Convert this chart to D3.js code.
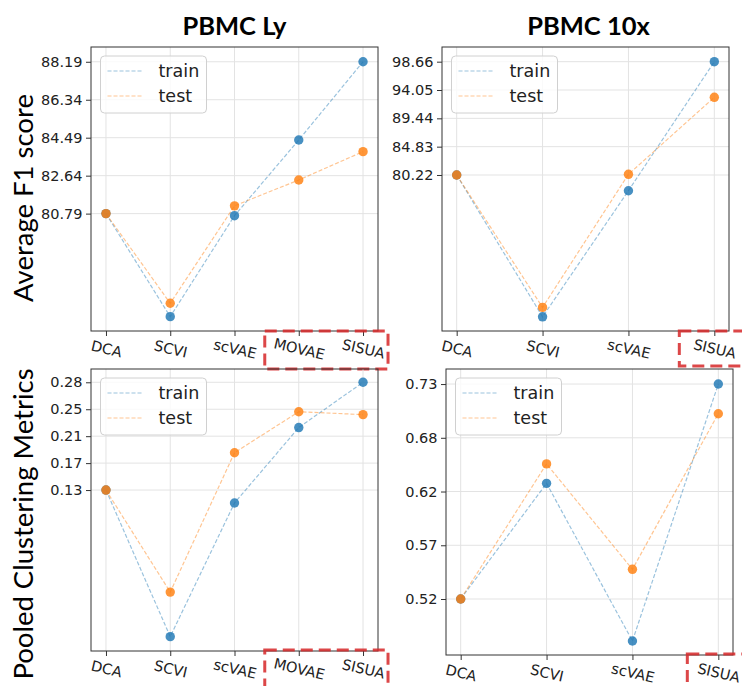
<!DOCTYPE html>
<html>
<head>
<meta charset="utf-8">
<script src="https://cdn.jsdelivr.net/npm/d3@7/dist/d3.min.js"></script>
<style>
  html, body { margin: 0; padding: 0; background: #fff; }
  svg { display: block; }
</style>
</head>
<body>
<svg id="chart" width="742" height="686"></svg>
<script>
// ---------------- DATA ----------------
const catsLy = ["DCA", "SCVI", "scVAE", "MOVAE", "SISUA"];
const cats10x = ["DCA", "SCVI", "scVAE", "SISUA"];

const f1LyTrain = [80.79, 75.77, 80.69, 84.38, 88.19];
const f1LyTest  = [80.79, 76.42, 81.17, 82.43, 83.81];
const f1LyTicks = [80.79, 82.64, 84.49, 86.34, 88.19];
const f1LyTickLabels = ["80.79", "82.64", "84.49", "86.34", "88.19"];

const f110xTrain = [80.22, 57.14, 77.66, 98.66];
const f110xTest  = [80.22, 58.67, 80.33, 92.86];
const f110xTicks = [80.22, 84.83, 89.44, 94.05, 98.66];
const f110xTickLabels = ["80.22", "84.83", "89.44", "94.05", "98.66"];

const clLyTrain = [0.131, -0.073, 0.113, 0.218, 0.281];
const clLyTest  = [0.131, -0.011, 0.183, 0.240, 0.236];
const clLyTicks = [0.131, 0.1685, 0.206, 0.2435, 0.281];
const clLyTickLabels = ["0.13", "0.17", "0.21", "0.25", "0.28"];

const cl10xTrain = [0.520, 0.633, 0.479, 0.730];
const cl10xTest  = [0.520, 0.652, 0.549, 0.701];
const cl10xTicks = [0.52, 0.5725, 0.625, 0.6775, 0.73];
const cl10xTickLabels = ["0.52", "0.57", "0.62", "0.68", "0.73"];

const seriesNames = ["train", "test"];
const titles = ["PBMC Ly", "PBMC 10x"];
const yLabels = ["Average F1 score", "Pooled Clustering Metrics"];
const highlighted = [["MOVAE", "SISUA"], ["SISUA"]];

// ---------------- LAYOUT ----------------
const colors = { train: "#1f77b4", test: "#ff7f0e" };
const panels = [
  { cats: catsLy, train: f1LyTrain, test: f1LyTest, ticks: f1LyTicks, labels: f1LyTickLabels,
    box: [91, 47, 378, 331], ydom: [75.07, 88.91], xpad: 0.233, hl: highlighted[0], hlBox: [-34, 25, 0, 38] },
  { cats: cats10x, train: f110xTrain, test: f110xTest, ticks: f110xTicks, labels: f110xTickLabels,
    box: [442, 47, 729, 331], ydom: [54.83, 101.05], xpad: 0.171, hl: highlighted[1], hlBox: [-35, 32, 0, 35] },
  { cats: catsLy, train: clLyTrain, test: clLyTest, ticks: clLyTicks, labels: clLyTickLabels,
    box: [91, 369, 378, 651], ydom: [-0.093, 0.2995], xpad: 0.233, hl: highlighted[0], hlBox: [-34, 25, -1, 40] },
  { cats: cats10x, train: cl10xTrain, test: cl10xTest, ticks: cl10xTicks, labels: cl10xTickLabels,
    box: [446, 369, 733, 655], ydom: [0.4653, 0.7447], xpad: 0.171, hl: highlighted[1], hlBox: [-31, 32, -1, 40] }
];

const svg = d3.select("#chart");
svg.append("rect").attr("width", 742).attr("height", 686).attr("fill", "#fff");

panels.forEach((p, pi) => {
  const [x0, y0, x1, y1] = p.box;
  const n = p.cats.length;
  const x = d3.scaleLinear().domain([-p.xpad, n - 1 + p.xpad]).range([x0, x1]);
  const y = d3.scaleLinear().domain(p.ydom).range([y1, y0]);
  const g = svg.append("g");

  // grid
  g.append("g").selectAll("line").data(p.ticks).join("line")
    .attr("x1", x0).attr("x2", x1)
    .attr("y1", d => y(d)).attr("y2", d => y(d))
    .attr("stroke", "#e3e3e3").attr("stroke-width", 1);
  g.append("g").selectAll("line").data(d3.range(n)).join("line")
    .attr("x1", d => x(d)).attr("x2", d => x(d))
    .attr("y1", y0).attr("y2", y1)
    .attr("stroke", "#e3e3e3").attr("stroke-width", 1);

  // lines
  const line = d3.line().x((d, i) => x(i)).y(d => y(d));
  seriesNames.forEach(s => {
    g.append("path").datum(p[s])
      .attr("d", line).attr("fill", "none")
      .attr("stroke", colors[s]).attr("stroke-opacity", 0.45)
      .attr("stroke-width", 1.2).attr("stroke-dasharray", "4,2");
  });
  seriesNames.forEach(s => {
    g.append("g").selectAll("circle").data(p[s]).join("circle")
      .attr("cx", (d, i) => x(i)).attr("cy", d => y(d)).attr("r", 4.7)
      .attr("fill", colors[s]).attr("fill-opacity", 0.82);
  });

  // axes
  const yAxis = d3.axisLeft(y).tickValues(p.ticks)
    .tickFormat((d, i) => p.labels[i]).tickSize(5).tickPadding(3.5);
  const ya = g.append("g").attr("transform", `translate(${x0},0)`).call(yAxis);
  ya.select(".domain").remove();
  ya.selectAll("line").attr("stroke", "#333");
  ya.selectAll("text").attr("font-family", "DejaVu Sans").attr("font-size", 14.5).attr("fill", "#222");

  const xAxis = d3.axisBottom(x).tickValues(d3.range(n))
    .tickFormat(i => p.cats[i]).tickSize(5).tickPadding(0);
  const xa = g.append("g").attr("transform", `translate(0,${y1})`).call(xAxis);
  xa.select(".domain").remove();
  xa.selectAll("line").attr("stroke", "#333");
  xa.selectAll("text")
    .attr("font-family", "DejaVu Sans").attr("font-size", 14.5).attr("fill", "#222")
    .attr("y", 0).attr("dy", null)
    .attr("text-anchor", "middle").attr("dominant-baseline", "central")
    .attr("transform", "translate(0,18) rotate(13)");

  // frame
  g.append("rect").attr("x", x0).attr("y", y0).attr("width", x1 - x0).attr("height", y1 - y0)
    .attr("fill", "none").attr("stroke", "#333").attr("stroke-width", 1);

  // legend
  const lg = g.append("g").attr("transform", `translate(${x0 + 9.5},${y0 + 9})`);
  lg.append("rect").attr("width", 106).attr("height", 57).attr("rx", 4)
    .attr("fill", "#fff").attr("fill-opacity", 0.8)
    .attr("stroke", "#d0d0d0").attr("stroke-width", 1);
  seriesNames.forEach((s, i) => {
    const yy = 15 + i * 25;
    lg.append("line").attr("x1", 7).attr("x2", 43).attr("y1", yy).attr("y2", yy)
      .attr("stroke", colors[s]).attr("stroke-opacity", 0.45)
      .attr("stroke-width", 1.2).attr("stroke-dasharray", "4,2");
    lg.append("text").attr("x", 58).attr("y", yy).attr("dominant-baseline", "central")
      .attr("font-family", "DejaVu Sans").attr("font-size", 17.5).attr("fill", "#222").text(s);
  });

  // highlight box around selected x labels
  const hi0 = p.cats.indexOf(p.hl[0]);
  const hi1 = p.cats.indexOf(p.hl[p.hl.length - 1]);
  svg.append("rect")
    .attr("x", x(hi0) + p.hlBox[0]).attr("y", y1 + p.hlBox[2])
    .attr("width", x(hi1) + p.hlBox[1] - (x(hi0) + p.hlBox[0]))
    .attr("height", p.hlBox[3] - p.hlBox[2])
    .attr("fill", "none").attr("stroke", "#d62728").attr("stroke-opacity", 0.85)
    .attr("stroke-width", 3).attr("stroke-dasharray", "12,6");

  // titles
  if (pi < 2) {
    svg.append("text").attr("x", (x0 + x1) / 2 + (pi === 1 ? 3 : 0)).attr("y", 35)
      .attr("text-anchor", "middle").attr("font-family", "Lato").attr("font-weight", 700)
      .attr("font-size", 25.5).attr("fill", "#000").text(titles[pi]);
  }
  if (pi % 2 === 0) {
    const cy = pi === 0 ? 198 : 524;
    svg.append("text").attr("transform", `translate(33,${cy}) rotate(-90)`)
      .attr("text-anchor", "middle").attr("font-family", "Lato").attr("font-weight", 400)
      .attr("font-size", 27.5).attr("fill", "#000").text(yLabels[pi / 2]);
  }
});
</script>
</body>
</html>
